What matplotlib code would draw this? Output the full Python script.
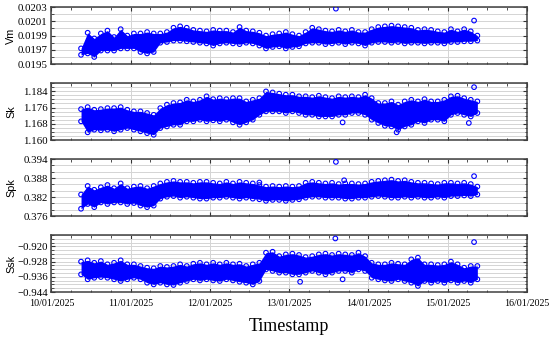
import numpy as np
import pandas as pd
import matplotlib
matplotlib.use("Agg")
import matplotlib.pyplot as plt
import matplotlib.dates as mdates
from matplotlib.ticker import FixedLocator, MultipleLocator, FuncFormatter

# ---------------- data ----------------
times = pd.date_range("2025-01-10 09:00", periods=61, freq="2h")

vm_hi = [0.01972, 0.01994, 0.01986, 0.01993, 0.01997, 0.01988, 0.01999, 0.01990, 0.01993, 0.01993,
         0.01995, 0.01993, 0.01993, 0.01995, 0.02001, 0.02003, 0.02001, 0.01998, 0.01997, 0.01996,
         0.01998, 0.01997, 0.01997, 0.01995, 0.02002, 0.01997, 0.01996, 0.01994, 0.01990, 0.01992,
         0.01993, 0.01995, 0.01992, 0.01990, 0.01995, 0.02001, 0.01999, 0.01997, 0.01996, 0.01998,
         0.01996, 0.01998, 0.01995, 0.01995, 0.01999, 0.02002, 0.02003, 0.02004, 0.02003, 0.02002,
         0.02001, 0.01998, 0.01999, 0.01998, 0.01996, 0.01995, 0.01999, 0.01996, 0.01999, 0.01996,
         0.01990]
vm_lo = [0.01963, 0.01965, 0.01960, 0.01969, 0.01969, 0.01969, 0.01972, 0.01972, 0.01972, 0.01967,
         0.01965, 0.01967, 0.01980, 0.01981, 0.01983, 0.01983, 0.01982, 0.01981, 0.01980, 0.01979,
         0.01976, 0.01979, 0.01980, 0.01979, 0.01978, 0.01980, 0.01979, 0.01976, 0.01972, 0.01974,
         0.01975, 0.01972, 0.01974, 0.01975, 0.01979, 0.01980, 0.01980, 0.01978, 0.01979, 0.01980,
         0.01978, 0.01980, 0.01979, 0.01976, 0.01980, 0.01981, 0.01981, 0.01980, 0.01981, 0.01979,
         0.01980, 0.01980, 0.01979, 0.01980, 0.01980, 0.01979, 0.01981, 0.01981, 0.01982, 0.01982,
         0.01983]

sk_hi = [1.1752, 1.1762, 1.1749, 1.1752, 1.1757, 1.1757, 1.1762, 1.1749, 1.1741, 1.1741,
         1.1733, 1.1724, 1.1757, 1.1774, 1.1782, 1.1785, 1.1798, 1.1790, 1.1798, 1.1815,
         1.1801, 1.1806, 1.1801, 1.1806, 1.1806, 1.1790, 1.1798, 1.1806, 1.1839, 1.1834,
         1.1828, 1.1823, 1.1823, 1.1815, 1.1815, 1.1811, 1.1818, 1.1811, 1.1806, 1.1815,
         1.1811, 1.1815, 1.1811, 1.1823, 1.1806, 1.1782, 1.1782, 1.1790, 1.1774, 1.1790,
         1.1798, 1.1790, 1.1801, 1.1790, 1.1790, 1.1798, 1.1815, 1.1818, 1.1806, 1.1798,
         1.1790]
sk_lo = [1.1692, 1.1638, 1.1651, 1.1648, 1.1651, 1.1643, 1.1651, 1.1659, 1.1651, 1.1643,
         1.1634, 1.1626, 1.1659, 1.1667, 1.1675, 1.1675, 1.1692, 1.1692, 1.1700, 1.1692,
         1.1697, 1.1692, 1.1700, 1.1687, 1.1675, 1.1687, 1.1700, 1.1724, 1.1741, 1.1741,
         1.1741, 1.1733, 1.1741, 1.1733, 1.1724, 1.1724, 1.1716, 1.1716, 1.1716, 1.1724,
         1.1724, 1.1733, 1.1733, 1.1724, 1.1700, 1.1684, 1.1670, 1.1667, 1.1651, 1.1667,
         1.1675, 1.1692, 1.1684, 1.1700, 1.1700, 1.1692, 1.1724, 1.1733, 1.1724, 1.1716,
         1.1733]

spk_hi = [0.3828, 0.3855, 0.3843, 0.3851, 0.3858, 0.3848, 0.3863, 0.3848, 0.3853, 0.3855,
          0.3848, 0.3855, 0.3863, 0.3868, 0.3871, 0.3868, 0.3868, 0.3865, 0.3868, 0.3868,
          0.3865, 0.3863, 0.3868, 0.3863, 0.3868, 0.3865, 0.3863, 0.3858, 0.3853, 0.3855,
          0.3853, 0.3855, 0.3853, 0.3855, 0.3865, 0.3868, 0.3865, 0.3863, 0.3865, 0.3861,
          0.3863, 0.3863, 0.3861, 0.3863, 0.3868, 0.3871, 0.3873, 0.3875, 0.3871, 0.3873,
          0.3868, 0.3865, 0.3865, 0.3863, 0.3861, 0.3865, 0.3865, 0.3863, 0.3865, 0.3861,
          0.3853]
spk_lo = [0.3783, 0.3798, 0.3788, 0.3803, 0.3798, 0.3803, 0.3803, 0.3798, 0.3801, 0.3793,
          0.3788, 0.3793, 0.3815, 0.3821, 0.3823, 0.3818, 0.3821, 0.3818, 0.3815, 0.3815,
          0.3818, 0.3818, 0.3821, 0.3818, 0.3815, 0.3818, 0.3815, 0.3813, 0.3808, 0.3811,
          0.3811, 0.3808, 0.3811, 0.3813, 0.3818, 0.3821, 0.3821, 0.3818, 0.3818, 0.3818,
          0.3815, 0.3815, 0.3818, 0.3818, 0.3821, 0.3823, 0.3821, 0.3818, 0.3818, 0.3821,
          0.3818, 0.3821, 0.3818, 0.3818, 0.3821, 0.3818, 0.3823, 0.3823, 0.3825, 0.3823,
          0.3828]

ssk_hi = [-0.9280, -0.9273, -0.9286, -0.9277, -0.9294, -0.9286, -0.9273, -0.9294, -0.9294, -0.9303,
          -0.9312, -0.9315, -0.9303, -0.9308, -0.9303, -0.9294, -0.9303, -0.9291, -0.9286, -0.9294,
          -0.9286, -0.9294, -0.9286, -0.9294, -0.9291, -0.9303, -0.9294, -0.9286, -0.9233, -0.9228,
          -0.9251, -0.9242, -0.9238, -0.9245, -0.9256, -0.9251, -0.9242, -0.9238, -0.9245, -0.9238,
          -0.9242, -0.9245, -0.9233, -0.9251, -0.9286, -0.9294, -0.9294, -0.9286, -0.9291, -0.9294,
          -0.9268, -0.9259, -0.9294, -0.9294, -0.9298, -0.9294, -0.9280, -0.9294, -0.9312, -0.9303,
          -0.9303]
ssk_lo = [-0.9347, -0.9373, -0.9365, -0.9361, -0.9365, -0.9373, -0.9382, -0.9373, -0.9365, -0.9373,
          -0.9391, -0.9400, -0.9391, -0.9400, -0.9403, -0.9391, -0.9382, -0.9373, -0.9379, -0.9373,
          -0.9379, -0.9382, -0.9373, -0.9379, -0.9386, -0.9391, -0.9400, -0.9382, -0.9321, -0.9329,
          -0.9338, -0.9338, -0.9347, -0.9347, -0.9338, -0.9329, -0.9338, -0.9347, -0.9338, -0.9329,
          -0.9329, -0.9338, -0.9321, -0.9329, -0.9365, -0.9373, -0.9379, -0.9382, -0.9373, -0.9382,
          -0.9391, -0.9408, -0.9382, -0.9391, -0.9382, -0.9391, -0.9379, -0.9391, -0.9382, -0.9391,
          -0.9373]

# isolated points (timestamp, value)
vm_out_t = ["2025-01-13 14:10", "2025-01-15 08:00"]
vm_out_v = [0.020278, 0.020111]
sk_out_t = ["2025-01-13 16:12", "2025-01-14 08:33", "2025-01-15 06:25", "2025-01-15 08:00"]
sk_out_v = [1.1687, 1.1638, 1.1684, 1.1860]
spk_out_t = ["2025-01-13 14:10", "2025-01-15 08:00", "2025-01-13 16:40", "2025-01-12 15:00"]
spk_out_v = [0.3931, 0.3886, 0.3873, 0.3866]
ssk_out_t = ["2025-01-13 14:00", "2025-01-15 08:00", "2025-01-13 03:20", "2025-01-13 16:12"]
ssk_out_v = [-0.9158, -0.9177, -0.9386, -0.9373]

panels = [
    ("Vm", vm_hi, vm_lo, vm_out_t, vm_out_v, (0.0195, 0.0203),
     [0.0195, 0.0197, 0.0199, 0.0201, 0.0203], 0.0001, "{:.4f}"),
    ("Sk", sk_hi, sk_lo, sk_out_t, sk_out_v, (1.160, 1.188),
     [1.160, 1.168, 1.176, 1.184], 0.002, "{:.3f}"),
    ("Spk", spk_hi, spk_lo, spk_out_t, spk_out_v, (0.376, 0.394),
     [0.376, 0.382, 0.388, 0.394], 0.002, "{:.3f}"),
    ("Ssk", ssk_hi, ssk_lo, ssk_out_t, ssk_out_v, (-0.944, -0.914),
     [-0.944, -0.936, -0.928, -0.920], 0.002, "{:.3f}"),
]

# ---------------- figure ----------------
BLUE = "#0000ff"
SERIF = ["Liberation Serif", "DejaVu Serif"]
SANS = ["Liberation Sans", "DejaVu Sans"]

fig = plt.figure(figsize=(5.5, 3.38), dpi=100)
gs = fig.add_gridspec(4, 1, left=0.0933, right=0.958, top=0.979, bottom=0.136, hspace=0.333)

axes = []
for i, (name, hi, lo, ot, ov, ylim, yticks, yminor, fmt) in enumerate(panels):
    ax = fig.add_subplot(gs[i, 0], sharex=axes[0] if axes else None)
    axes.append(ax)
    hi = np.asarray(hi)
    lo = np.asarray(lo)
    ax.fill_between(times, lo, hi, color=BLUE, lw=0, zorder=3)
    ax.scatter(times, hi, s=11, facecolors="none", edgecolors=BLUE, linewidths=0.8, zorder=4)
    ax.scatter(times, lo, s=11, facecolors="none", edgecolors=BLUE, linewidths=0.8, zorder=4)
    ax.scatter(pd.to_datetime(ot), ov, s=11, facecolors="none", edgecolors=BLUE,
               linewidths=0.8, zorder=4)

    ax.set_ylim(*ylim)
    ax.yaxis.set_major_locator(FixedLocator(yticks))
    ax.yaxis.set_minor_locator(MultipleLocator(yminor))
    ax.yaxis.set_major_formatter(FuncFormatter(lambda v, p, f=fmt: f.format(v).replace("-", "\u2212")))
    ax.grid(True, which="major", axis="both", color="#d4d4d4", lw=0.7, zorder=0)
    ax.grid(True, which="minor", axis="y", color="#d4d4d4", lw=0.7, zorder=0)
    ax.set_axisbelow(True)

    ax.tick_params(which="both", direction="in", top=True, right=True, color="#333333")
    ax.tick_params(which="major", length=3, width=0.8)
    ax.tick_params(which="minor", length=1.8, width=0.6)
    ax.tick_params(axis="y", labelsize=7.8, pad=2.5)
    ax.tick_params(axis="x", labelsize=7.2, pad=5)
    for lab in ax.get_yticklabels():
        lab.set_family(SERIF)
    for sp in ax.spines.values():
        sp.set_color("#404040")
        sp.set_linewidth(1.1)

    ax.set_ylabel(name, family=SANS, fontsize=7.8)
    ax.yaxis.set_label_coords(-0.074, 0.5)

axes[0].set_xlim(pd.Timestamp("2025-01-10"), pd.Timestamp("2025-01-16"))
for ax in axes:
    ax.xaxis.set_major_locator(mdates.DayLocator())
    ax.xaxis.set_minor_locator(mdates.HourLocator(byhour=[6, 12, 18]))
    ax.xaxis.set_major_formatter(mdates.DateFormatter("%d/%m/%Y"))
for ax in axes[:-1]:
    ax.tick_params(labelbottom=False)
for lab in axes[-1].get_xticklabels():
    lab.set_family(SERIF)
axes[-1].set_xlabel("Timestamp", family=SERIF, fontsize=13, labelpad=7)

fig.savefig("out.png", dpi=100)
